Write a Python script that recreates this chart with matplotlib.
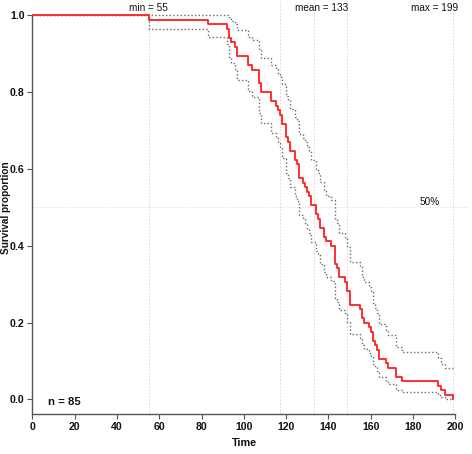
import numpy as np
import matplotlib
matplotlib.use("Agg")
import matplotlib.pyplot as plt

plt.rcParams['font.family'] = ['Liberation Sans', 'DejaVu Sans']

# Event times and number of events at each time
event_times = [55, 83, 92, 93, 94, 96, 97, 102, 104, 107, 108, 113, 115, 116, 117,
               118, 120, 121, 122, 124, 125, 126, 128, 129, 130, 131, 132, 134, 135,
               136, 138, 139, 141, 143, 144, 145, 148, 149, 150, 155, 156, 157, 159,
               160, 161, 162, 163, 164, 167, 168, 172, 175, 192, 193, 195, 199]
event_counts = [1, 1, 1, 2, 1, 1, 2, 2, 1, 3, 2, 2, 1, 1, 1, 2, 3, 1, 2, 2, 1, 3, 1,
                1, 1, 1, 2, 2, 1, 2, 2, 1, 1, 4, 1, 2, 1, 2, 3, 1, 2, 1, 1, 1, 2, 1,
                1, 2, 1, 1, 2, 1, 1, 1, 1, 1]
n_total = 85
ref_lines = [55, 117, 133, 149, 199]
stat_labels = ["min = 55", "mean = 133", "max = 199"]
stat_label_x = [55, 137, 190]
x_ticks = [0, 20, 40, 60, 80, 100, 120, 140, 160, 180, 200]
y_ticks = [0.0, 0.2, 0.4, 0.6, 0.8, 1.0]

# Kaplan-Meier estimate with log-transformed Greenwood CI
t = np.array(event_times, dtype=float)
d = np.array(event_counts, dtype=float)
at_risk = n_total - np.concatenate([[0], np.cumsum(d)[:-1]])
surv = np.cumprod(1 - d / at_risk)
with np.errstate(divide='ignore', invalid='ignore'):
    gw = np.cumsum(d / (at_risk * (at_risk - d)))
    se = np.sqrt(gw)
    lower = surv * np.exp(-1.96 * se)
    upper = np.minimum(1.0, surv * np.exp(1.96 * se))

xs = np.concatenate([[0], t])
ys = np.concatenate([[1.0], surv])

valid = surv > 0
xs_ci = np.concatenate([[0], t[valid], [t[-1]]])
lo_ci = np.concatenate([[1.0], lower[valid], [lower[valid][-1]]])
up_ci = np.concatenate([[1.0], upper[valid], [upper[valid][-1]]])

W, H = 472, 454
fig = plt.figure(figsize=(W / 100, H / 100), dpi=100)
ax = fig.add_axes([32.3 / W, 40 / H, (468 - 32.3) / W, 414 / H])
ax.set_xlim(0, 206)
ax.set_ylim(-0.038, 1.04)

for xv in ref_lines:
    ax.axvline(xv, color='#f3c4c8', lw=0.6, ls=(0, (2, 2)), zorder=1)
ax.axhline(0.5, color='#cfcfcf', lw=0.6, ls=(0, (1, 2)), zorder=1)

ax.step(xs_ci, up_ci, where='post', color='#6a6a6a', lw=1.0, ls=(0, (1, 1.6)), zorder=2)
ax.step(xs_ci, lo_ci, where='post', color='#6a6a6a', lw=1.0, ls=(0, (1, 1.6)), zorder=2)
ax.step(xs, ys, where='post', color='#ff2020', lw=1.3, zorder=3)

for lab, xv in zip(stat_labels, stat_label_x):
    ax.text(xv, 1.019, lab, ha='center', va='center', fontsize=7.2, color='#111111')
ax.text(188, 0.515, "50%", ha='center', va='center', fontsize=7.2, color='#111111')
ax.text(15, -0.007, "n = 85", ha='center', va='center', fontsize=8.2,
        fontweight='bold', color='#111111')

ax.spines['top'].set_visible(False)
ax.spines['right'].set_visible(False)
ax.spines['left'].set_bounds(-0.038, 1.0)
ax.spines['bottom'].set_bounds(0, 200)
for s in ('left', 'bottom'):
    ax.spines[s].set_color('#555555')
    ax.spines[s].set_linewidth(1.0)

ax.set_xticks(x_ticks)
ax.set_yticks(y_ticks)
ax.set_yticklabels([f"{v:.1f}" for v in y_ticks])
ax.tick_params(axis='both', direction='out', length=3.5, width=0.8, color='#555555',
               labelsize=7.6, pad=2)
for lbl in ax.get_xticklabels() + ax.get_yticklabels():
    lbl.set_fontweight('bold')
    lbl.set_color('#111111')

fig.text(244 / W, 1 - 443 / H, "Time", ha='center', va='center', fontsize=7.8,
         fontweight='bold', color='#111111')
fig.text(6 / W, 1 - 208 / H, "Survival proportion", ha='center', va='center',
         rotation=90, fontsize=7.2, fontweight='bold', color='#111111')

fig.savefig("out.png", dpi=100)
